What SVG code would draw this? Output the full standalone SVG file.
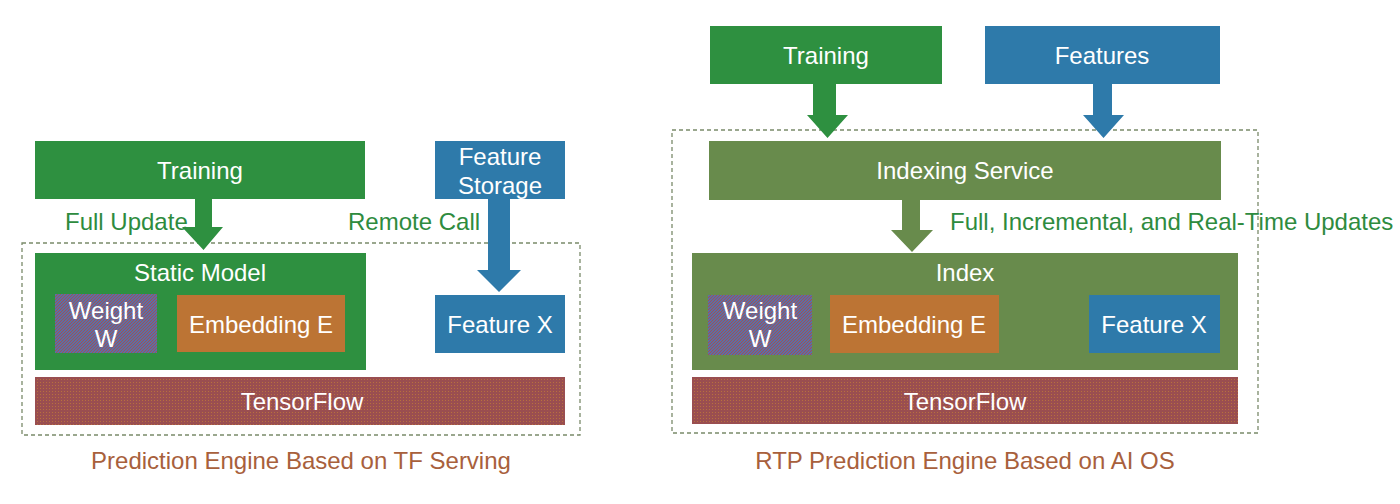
<svg xmlns="http://www.w3.org/2000/svg" width="1400" height="504" viewBox="0 0 1400 504">
<defs>
<pattern id="wpat" width="3" height="3" patternUnits="userSpaceOnUse">
<rect width="3" height="3" fill="#5A70A6"/>
<rect width="1" height="1" fill="#A44E55"/>
<rect x="2" y="1" width="1" height="1" fill="#A44E55"/>
<rect x="1" y="2" width="1" height="1" fill="#A44E55"/>
</pattern>
<pattern id="tpat" width="3" height="3" patternUnits="userSpaceOnUse">
<rect width="3" height="3" fill="#9A4E50"/>
<rect x="1" y="1" width="1" height="1" fill="#B8703E"/>
</pattern>
</defs>
<style>
text{font-family:"Liberation Sans",Arial,sans-serif;font-size:24px;text-anchor:middle}
.w{fill:#ffffff}
.lbl{fill:#2E8B3E;text-anchor:start}
.cap{fill:#A8603C}
.green{fill:#2E9040}
.olive{fill:#688B4C}
.blue{fill:#2E7AAA}
.orange{fill:#BC7434}
.dash{fill:none;stroke:#7A8A6A;stroke-width:1.3;stroke-dasharray:4 3}
</style>
<rect width="1400" height="504" fill="#ffffff"/>

<!-- Left diagram -->
<rect class="dash" x="22" y="243" width="558" height="192"/>
<g id="l-training"><rect class="green" x="35" y="141" width="330" height="58"/><text class="w" x="200" y="179">Training</text></g>
<g id="l-featstore"><rect class="blue" x="435" y="141" width="130" height="58"/><text class="w" x="500" y="165">Feature</text><text class="w" x="500" y="194">Storage</text></g>
<g id="l-static"><rect class="green" x="35" y="253" width="331" height="117"/><text class="w" x="200" y="281">Static Model</text></g>
<g id="l-weight"><rect fill="url(#wpat)" x="55" y="294" width="102" height="59"/><text class="w" x="106" y="319">Weight</text><text class="w" x="106" y="347">W</text></g>
<g id="l-embed"><rect class="orange" x="177" y="295" width="168" height="57"/><text class="w" x="261" y="333">Embedding E</text></g>
<g id="l-featx"><rect class="blue" x="435" y="295" width="130" height="58"/><text class="w" x="500" y="333">Feature X</text></g>
<g id="l-tf"><rect fill="url(#tpat)" x="35" y="377" width="530" height="48"/><text class="w" x="302" y="410">TensorFlow</text></g>
<text class="cap" x="301" y="469">Prediction Engine Based on TF Serving</text>

<!-- Right diagram -->
<rect class="dash" x="672" y="130" width="586" height="303"/>
<g id="r-training"><rect class="green" x="710" y="26" width="232" height="58"/><text class="w" x="826" y="64">Training</text></g>
<g id="r-features"><rect class="blue" x="985" y="26" width="235" height="58"/><text class="w" x="1102" y="64">Features</text></g>
<g id="r-indexing"><rect class="olive" x="709" y="141" width="512" height="59"/><text class="w" x="965" y="179">Indexing Service</text></g>
<g id="r-index"><rect class="olive" x="692" y="253" width="546" height="117"/><text class="w" x="965" y="281">Index</text></g>
<g id="r-weight"><rect fill="url(#wpat)" x="708" y="295" width="104" height="60"/><text class="w" x="760" y="319">Weight</text><text class="w" x="760" y="347">W</text></g>
<g id="r-embed"><rect class="orange" x="830" y="295" width="169" height="58"/><text class="w" x="914" y="333">Embedding E</text></g>
<g id="r-featx"><rect class="blue" x="1089" y="295" width="131" height="58"/><text class="w" x="1154" y="333">Feature X</text></g>
<g id="r-tf"><rect fill="url(#tpat)" x="692" y="377" width="546" height="47"/><text class="w" x="965" y="410">TensorFlow</text></g>
<text class="cap" x="965" y="469">RTP Prediction Engine Based on AI OS</text>

<!-- Connectors -->
<g id="connectors">
<path class="green" d="M195 199 H212 V227 H223 L203.5 250 L182 227 H195 Z"/>
<text class="lbl" x="65" y="230">Full Update</text>
<path class="blue" d="M488 199 H510 V270 H521 L499 292 L477 270 H488 Z"/>
<text class="lbl" x="348" y="230">Remote Call</text>
<path class="green" d="M813 84 H836 V115 H848 L827.5 138 L807 115 H813 Z"/>
<path class="blue" d="M1093 84 H1112 V115 H1124 L1103.5 138 L1083 115 H1093 Z"/>
<path class="olive" d="M902 200 H920 V230 H933 L912 252 L891 230 H902 Z"/>
<text class="lbl" x="950" y="230">Full, Incremental, and Real-Time Updates</text>
</g>
</svg>
